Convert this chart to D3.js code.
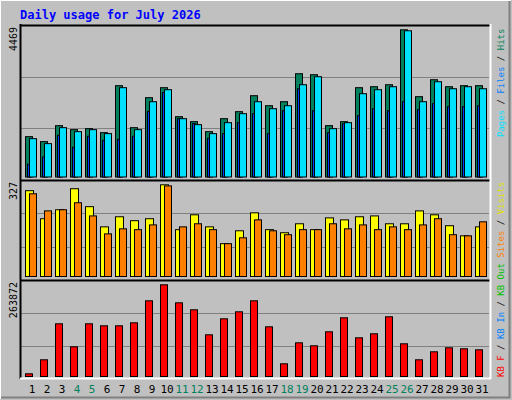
<!DOCTYPE html>
<html><head><meta charset="utf-8">
<script src="https://cdn.jsdelivr.net/npm/d3@7"></script>
<style>body{margin:0;background:#c0c0c0}text{font-family:"DejaVu Sans Mono",monospace}</style>
</head><body>
<script>
// daily stats, July 2026
var days = d3.range(1, 32);
var weekend = [4, 5, 11, 12, 18, 19, 25, 26];
var hits = [1190,1043,1514,1396,1426,1308,2693,1455,2339,2634,1779,1632,1337,1720,1927,2398,
  2103,2221,3046,3017,1514,1632,2634,2663,2722,4342,2369,2869,2663,2693,2693];
var files = [1131,984,1455,1337,1396,1279,2634,1396,2221,2575,1720,1544,1279,1603,1868,2221,
  2015,2103,2722,2958,1426,1603,2457,2575,2663,4313,2221,2810,2604,2663,2604];
var pages = [374,589,1228,875,1199,1081,1111,1199,1936,2495,1720,1573,1140,1279,1603,1868,
  1279,1956,2604,1956,1308,1573,1809,2015,1956,2221,1986,2162,2074,2074,2103];
var visits = [306,206,238,313,249,177,213,199,206,327,167,220,177,117,163,227,
  167,156,188,167,209,202,213,216,188,188,234,220,181,145,177];
var sites = [295,234,238,263,216,152,170,167,184,323,177,188,167,117,138,202,
  163,149,167,167,188,170,184,167,177,167,184,206,149,145,195];
var kbytes = [7770,48050,151650,85460,151650,145890,145890,154520,217830,263872,212070,191930,119990,166030,186170,217830,
  143010,36540,96970,88340,128620,168910,111360,122870,171790,94100,48050,71070,82580,79710,76830];
var maxHits = 4469, maxVisits = 327, maxKB = 263872;

var svg = d3.select('body').append('svg').attr('width', 512).attr('height', 400);

// outer bevel
svg.append('rect').attr('width', 512).attr('height', 400).attr('fill', '#c0c0c0');
svg.append('path').attr('d', 'M0.5,399V0.5H511').attr('stroke', '#fff').attr('fill', 'none');
svg.append('path').attr('d', 'M1,397.5H509.5V1').attr('stroke', '#808080').attr('stroke-width', 2).attr('fill', 'none');

svg.append('text').attr('x', 20).attr('y', 19).attr('fill', '#0000ff')
  .style('font-weight', 'bold').style('font-size', '12px').text('Daily usage for July 2026');

var x = d3.scaleBand().domain(days).range([22, 487]);

// panel frame: black top/left, white bottom/right, grid at thirds
var panels = [[25, 180], [180, 280], [280, 379]];
panels.forEach(function (p) {
  var h = (p[1] - p[0]) / 3;
  [1, 2].forEach(function (k) {
    svg.append('line').attr('x1', 21).attr('x2', 489)
      .attr('y1', Math.round(p[0] + h * k) + 0.5).attr('y2', Math.round(p[0] + h * k) + 0.5)
      .attr('stroke', '#808080');
  });
  svg.append('line').attr('x1', 20).attr('x2', 490).attr('y1', p[0] + 0.5).attr('y2', p[0] + 0.5).attr('stroke', '#000').attr('stroke-width', 2);
});
svg.append('line').attr('x1', 20.5).attr('x2', 20.5).attr('y1', 24).attr('y2', 379).attr('stroke', '#000').attr('stroke-width', 2);
svg.append('line').attr('x1', 490.5).attr('x2', 490.5).attr('y1', 24).attr('y2', 379).attr('stroke', '#fff').attr('stroke-width', 2);
svg.append('line').attr('x1', 20).attr('x2', 491).attr('y1', 378.5).attr('y2', 378.5).attr('stroke', '#fff').attr('stroke-width', 2);

function bars(vals, y, color, dx, w) {
  svg.append('g').selectAll('rect').data(vals).join('rect')
    .attr('x', function (d, i) { return x(days[i]) + dx + 0.5; })
    .attr('y', function (d) { return y(d) + 0.5; })
    .attr('width', w)
    .attr('height', function (d) { return y(0) - y(d); })
    .attr('fill', color).attr('stroke', '#000');
}

var y1 = d3.scaleLinear().domain([0, maxHits]).range([176.5, 25]);
bars(hits, y1, '#00805c', 3, 7);
bars(pages, y1, '#0040ff', 5, 3);
bars(files, y1, '#00e0ff', 7, 7);

var y2 = d3.scaleLinear().domain([0, maxVisits]).range([276, 184.3]);
bars(visits, y2, '#ffff00', 3, 8);
bars(sites, y2, '#ff8000', 7, 7);

var y3 = d3.scaleLinear().domain([0, maxKB]).range([376, 284.3]);
bars(kbytes, y3, '#ff0000', 3, 7);

// day labels
svg.append('g').selectAll('text').data(days).join('text')
  .attr('x', function (d) { return x(d) + 10; })
  .attr('y', 393).attr('text-anchor', 'middle').style('font-size', '11px')
  .attr('fill', function (d) { return weekend.indexOf(d) >= 0 ? '#00805c' : '#000'; })
  .text(function (d) { return d; });

// max labels on the left
[[maxHits, 27], [maxVisits, 182], [maxKB, 282]].forEach(function (m) {
  svg.append('text').attr('transform', 'translate(17,' + m[1] + ') rotate(-90)')
    .attr('text-anchor', 'end').style('font-size', '10px').text(m[0]);
});

// legends on the right, reading upward
function legend(y0, parts) {
  var t = svg.append('text').attr('transform', 'translate(504,' + y0 + ') rotate(-90)')
    .style('font-size', '9px');
  parts.forEach(function (p) { t.append('tspan').attr('fill', p[1]).text(p[0]); });
}
legend(137, [['Pages', '#00e0ff'], [' / ', '#000'], ['Files', '#0080ff'], [' / ', '#000'], ['Hits', '#00805c']]);
legend(377, [['KB F', '#ff0000'], [' / ', '#000'], ['KB In', '#0080ff'], [' / ', '#000'], ['KB Out', '#00c000'],
  [' ', '#000'], ['Sites', '#ff8000'], [' / ', '#000'], ['Visits', '#e0e000']]);
</script>
</body></html>
